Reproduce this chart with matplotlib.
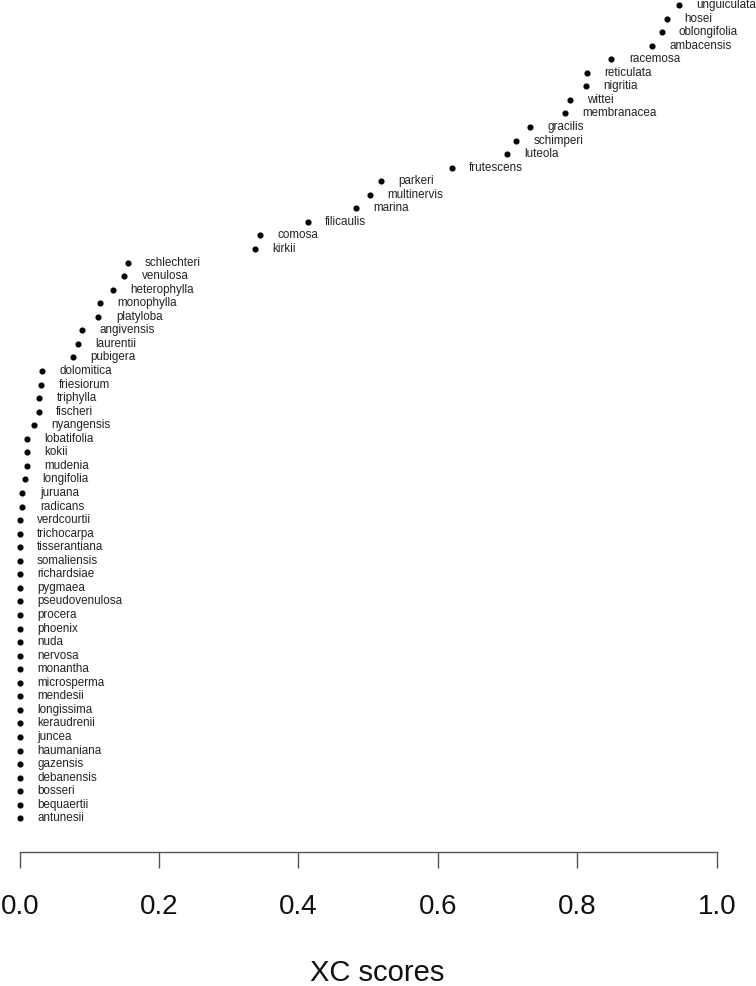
import numpy as np
import matplotlib
matplotlib.use("Agg")
import matplotlib.pyplot as plt

plt.rcParams['font.family'] = ['Liberation Sans', 'DejaVu Sans']

# species, bottom row first
species = ['antunesii', 'bequaertii', 'bosseri', 'debanensis', 'gazensis', 'haumaniana',
           'juncea', 'keraudrenii', 'longissima', 'mendesii', 'microsperma', 'monantha',
           'nervosa', 'nuda', 'phoenix', 'procera', 'pseudovenulosa', 'pygmaea',
           'richardsiae', 'somaliensis', 'tisserantiana', 'trichocarpa', 'verdcourtii',
           'radicans', 'juruana', 'longifolia', 'mudenia', 'kokii', 'lobatifolia',
           'nyangensis', 'fischeri', 'triphylla', 'friesiorum', 'dolomitica', 'pubigera',
           'laurentii', 'angivensis', 'platyloba', 'monophylla', 'heterophylla', 'venulosa',
           'schlechteri', 'kirkii', 'comosa', 'filicaulis', 'marina', 'multinervis',
           'parkeri', 'frutescens', 'luteola', 'schimperi', 'gracilis', 'membranacea',
           'wittei', 'nigritia', 'reticulata', 'racemosa', 'ambacensis', 'oblongifolia',
           'hosei', 'unguiculata']

xc_scores = [0.0] * 23 + [
    0.004, 0.004, 0.008, 0.010, 0.011, 0.011,
    0.020, 0.027, 0.028, 0.031, 0.032, 0.077,
    0.083, 0.089, 0.113, 0.115, 0.134, 0.150,
    0.155, 0.338, 0.345, 0.413, 0.482, 0.502,
    0.518, 0.620, 0.699, 0.712, 0.732, 0.782,
    0.789, 0.813, 0.814, 0.849, 0.907, 0.921,
    0.928, 0.946]

ticks = [0.0, 0.2, 0.4, 0.6, 0.8, 1.0]

W, H = 756, 986
fig = plt.figure(figsize=(W / 100, H / 100), dpi=100)
left, right = 19.7, 716.7
bottom = 851.7
ax = fig.add_axes([left / W, 1 - bottom / H, (right - left) / W, bottom / H])

rows = np.arange(1, len(species) + 1)
ax.plot(xc_scores, rows, 'o', color='black', markersize=3.4, clip_on=False)
for x, y, name in zip(xc_scores, rows, species):
    ax.annotate(name, (x, y), xytext=(12.5, 0), textcoords='offset points',
                ha='left', va='center', fontsize=8.4, color='#222222',
                annotation_clip=False)

step = 13.555
ax.set_xlim(0, 1)
ax.set_ylim(1 - (bottom - 818.3) / step, 61 + 5 / step)

for s in ['top', 'right', 'left']:
    ax.spines[s].set_visible(False)
ax.spines['bottom'].set_bounds(0, 1)
ax.spines['bottom'].set_color('#555555')
ax.spines['bottom'].set_linewidth(1.0)
ax.set_yticks([])
ax.set_xticks(ticks)
ax.set_xticklabels(['%.1f' % t for t in ticks])
ax.tick_params(axis='x', direction='out', length=11.5, width=1.0, color='#555555',
               pad=19, labelsize=20, labelcolor='#111111')

fig.text(377 / W, 1 - 973 / H, 'XC scores', ha='center', va='center',
         fontsize=21, color='#111111')

fig.savefig('out.png', dpi=100)
